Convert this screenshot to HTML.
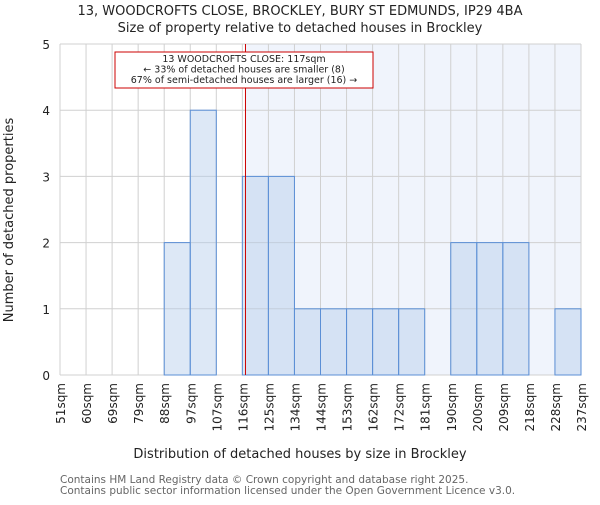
<!DOCTYPE html>
<html><head><meta charset="utf-8"><style>
body{margin:0;background:#fff}
svg{font-family:"DejaVu Sans","Liberation Sans",sans-serif}
</style></head><body>
<svg id="chart" width="600" height="500">
<text x="300" y="15" text-anchor="middle" font-size="13" fill="#222">13, WOODCROFTS CLOSE, BROCKLEY, BURY ST EDMUNDS, IP29 4BA</text>
<text x="300" y="32" text-anchor="middle" font-size="13" fill="#222">Size of property relative to detached houses in Brockley</text>
<g id="plot"></g>
<text x="300" y="458" text-anchor="middle" font-size="13" fill="#222">Distribution of detached houses by size in Brockley</text>
<text transform="translate(13,220) rotate(-90)" text-anchor="middle" font-size="13" fill="#222">Number of detached properties</text>
<text x="60" y="483" font-size="10.5" fill="#666">Contains HM Land Registry data © Crown copyright and database right 2025.</text>
<text x="60" y="494" font-size="10.5" fill="#666">Contains public sector information licensed under the Open Government Licence v3.0.</text>
</svg>
<script>
const edgeLabels=["51sqm","60sqm","69sqm","79sqm","88sqm","97sqm","107sqm","116sqm","125sqm","134sqm","144sqm","153sqm","162sqm","172sqm","181sqm","190sqm","200sqm","209sqm","218sqm","228sqm","237sqm"];
const counts=[0,0,0,0,2,4,0,3,3,1,1,1,1,1,0,2,2,2,0,1];
const yTicks=[0,1,2,3,4,5];
const subjectIndex=7.12;
const NS="http://www.w3.org/2000/svg";
const g=document.getElementById('plot');
const X0=60,X1=581,Y0=375,Y1=44;
const bw=(X1-X0)/counts.length;
const xs=i=>X0+i*bw;
const ys=v=>Y0-(Y0-Y1)*v/5;
function mk(t,a){const e=document.createElementNS(NS,t);for(const k in a)e.setAttribute(k,a[k]);g.appendChild(e);return e;}
const sx=xs(subjectIndex);
let sh=mk('rect',{x:sx,y:Y1,width:X1-sx,height:Y0-Y1,fill:'#f0f4fc'});


for(let i=0;i<edgeLabels.length;i++){
  let l=mk('line',{x1:xs(i),x2:xs(i),y1:Y1,y2:Y0,stroke:'#d0d0d0'});
  
  
  let t=mk('text',{transform:`translate(${xs(i)+5},383) rotate(-90)`,'text-anchor':'end','font-size':'12',fill:'#222'});
  t.textContent=edgeLabels[i];
  
  
}
yTicks.forEach(v=>{
  let l=mk('line',{x1:X0,x2:X1,y1:ys(v),y2:ys(v),stroke:'#d0d0d0'});
  
  
  let t=mk('text',{x:50,y:ys(v)+5,'text-anchor':'end','font-size':'12',fill:'#222'});
  t.textContent=v;
  
  
});
counts.forEach((c,i)=>{
  if(c<=0)return;
  let r=mk('rect',{x:xs(i),y:ys(c),width:bw,height:Y0-ys(c),fill:'rgba(180,205,235,0.45)',stroke:'#5b8fd6','stroke-width':1});
  
  
});
let rl=mk('line',{x1:sx,x2:sx,y1:Y1,y2:Y0,stroke:'#cc0000','stroke-width':1});


let bx=mk('rect',{x:115,y:52,width:258,height:36,fill:'#fff',stroke:'#cc0000','stroke-width':1});


["13 WOODCROFTS CLOSE: 117sqm","← 33% of detached houses are smaller (8)","67% of semi-detached houses are larger (16) →"].forEach((s,k)=>{
  let t=mk('text',{x:244,y:62+k*10.5,'text-anchor':'middle','font-size':'9.5',fill:'#222'});
  t.textContent=s;
  
  
});
</script>
</body></html>
